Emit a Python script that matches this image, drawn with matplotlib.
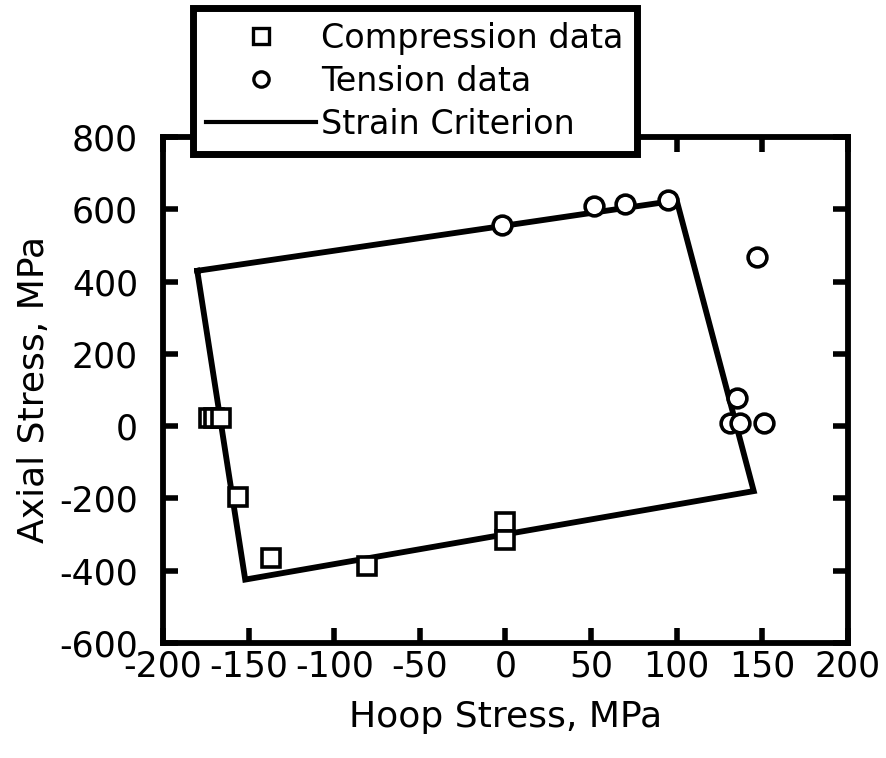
import matplotlib.pyplot as plt
from matplotlib.lines import Line2D

# strain criterion polygon (hoop, axial), closed
crit_hoop = [-180, 100, 145, -152, -180]
crit_axial = [430, 625, -180, -425, 430]

comp_hoop = [-173, -170, -166, -156, -137, -81, 0, 0]
comp_axial = [22, 22, 22, -196, -365, -387, -265, -315]

tens_hoop = [-2, 52, 70, 95, 147, 135, 131, 137, 151]
tens_axial = [556, 609, 614, 625, 468, 77, 8, 8, 8]

xticks = [-200, -150, -100, -50, 0, 50, 100, 150, 200]
yticks = [-600, -400, -200, 0, 200, 400, 600, 800]

plt.rcParams['font.family'] = 'DejaVu Sans'
plt.rcParams['axes.unicode_minus'] = False

fig = plt.figure(figsize=(8.86, 7.58), dpi=100)
ax = fig.add_axes([0.184, 0.152, 0.773, 0.667])

ax.plot(crit_hoop, crit_axial, color='black', lw=4.2, solid_joinstyle='miter', zorder=2)
ax.plot(comp_hoop, comp_axial, 's', ms=13, mfc='white', mec='black', mew=2.6, zorder=3)
ax.plot(tens_hoop, tens_axial, 'o', ms=13.5, mfc='white', mec='black', mew=2.6, zorder=3)

ax.set_xlim(-200, 200)
ax.set_ylim(-600, 800)
ax.set_xticks(xticks)
ax.set_yticks(yticks)
ax.tick_params(direction='in', length=11, width=4, labelsize=25,
               top=True, right=True)
ax.tick_params(axis='x', pad=5)
ax.tick_params(axis='y', pad=18)
for s in ax.spines.values():
    s.set_linewidth(4.2)

ax.set_xlabel('Hoop Stress, MPa', fontsize=26, labelpad=12)
ax.set_ylabel('Axial Stress, MPa', fontsize=26, labelpad=6)

handles = [
    Line2D([], [], ls='none', marker='s', ms=11, mfc='white', mec='black', mew=2.4),
    Line2D([], [], ls='none', marker='o', ms=11, mfc='white', mec='black', mew=2.4),
    Line2D([], [], color='black', lw=3),
]
labels = ['Compression data', 'Tension data', 'Strain Criterion']
leg = ax.legend(handles, labels, loc='upper left', bbox_to_anchor=(0.044, 1.255),
                fontsize=24, handlelength=3.3, handletextpad=0.15, labelspacing=0.3,
                borderpad=0.4, borderaxespad=0, fancybox=False, framealpha=1,
                edgecolor='black')
leg.get_frame().set_linewidth(5)
leg.set_zorder(5)

fig.savefig('out.png', dpi=100)
